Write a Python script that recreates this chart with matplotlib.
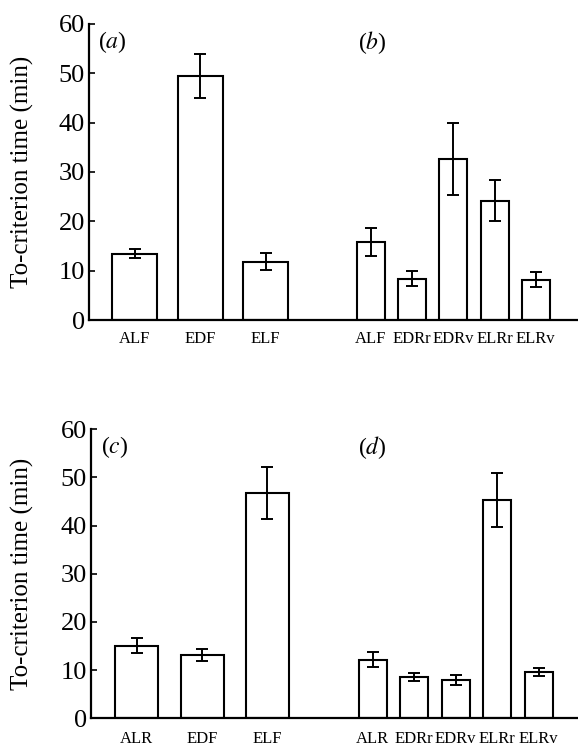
import matplotlib
matplotlib.use("Agg")
import matplotlib.pyplot as plt
import numpy as np

plt.rcParams['font.family'] = ['Liberation Serif', 'DejaVu Serif']
plt.rcParams['mathtext.fontset'] = 'stix'

# datos
cat_a = ["ALF", "EDF", "ELF"]
val_a = [13.4, 49.5, 11.8]
err_a = [0.9, 4.5, 1.7]

cat_b = ["ALF", "EDRr", "EDRv", "ELRr", "ELRv"]
val_b = [15.8, 8.4, 32.6, 24.2, 8.2]
err_b = [2.8, 1.5, 7.3, 4.2, 1.6]

cat_c = ["ALR", "EDF", "ELF"]
val_c = [15.1, 13.1, 46.8]
err_c = [1.5, 1.3, 5.4]

cat_d = ["ALR", "EDRr", "EDRv", "ELRr", "ELRv"]
val_d = [12.2, 8.5, 7.9, 45.4, 9.6]
err_d = [1.6, 0.85, 1.0, 5.6, 0.85]

W, H = 578, 746
fig = plt.figure(figsize=(W / 100, H / 100), dpi=100)


def panel(rect, x0, groups, lab_pad):
    ax = fig.add_axes(rect)
    ticks, labels = [], []
    for (cats, vals, errs, start, step, width, tag, tagx) in groups:
        x = start + step * np.arange(len(cats))
        ax.bar(x, vals, width=width, color='white', edgecolor='black',
               linewidth=1.5, zorder=2)
        ax.errorbar(x, vals, yerr=errs, fmt='none', ecolor='black',
                    elinewidth=1.4, capsize=4, capthick=1.4, zorder=3)
        ticks += list(x)
        labels += cats
        ax.text(tagx, 56.3, "(" + r"$\mathit{" + tag + "}$" + ")",
                fontsize=17, ha='left', va='center')
    ax.set_xlim(x0, 577)
    ax.set_ylim(0, 60)
    ax.set_yticks(np.arange(0, 61, 10))
    ax.tick_params(axis='y', direction='in', length=4, width=1.2,
                   labelsize=19, pad=3)
    ax.set_xticks(ticks)
    ax.set_xticklabels(labels, fontsize=12)
    ax.tick_params(axis='x', length=0, pad=lab_pad)
    for s in ['top', 'right']:
        ax.spines[s].set_visible(False)
    for s in ['left', 'bottom']:
        ax.spines[s].set_linewidth(1.6)
    ax.set_ylabel("To-criterion time (min)", fontsize=18)
    ax.yaxis.set_label_coords((34 - x0) / (577 - x0), 0.5)
    return ax


ax1 = panel([89 / W, 1 - 320 / H, (577 - 89) / W, 296 / H], 89,
            [(cat_a, val_a, err_a, 134.5, 65.5, 45, 'a', 98),
             (cat_b, val_b, err_b, 371, 41.2, 28, 'b', 358)], 8)

ax2 = panel([91 / W, 1 - 718.3 / H, (577 - 91) / W, 289 / H], 91,
            [(cat_c, val_c, err_c, 136.7, 65.3, 43, 'c', 101),
             (cat_d, val_d, err_d, 372.5, 41.5, 28, 'd', 358)], 9)

fig.savefig("out.png", dpi=100)
